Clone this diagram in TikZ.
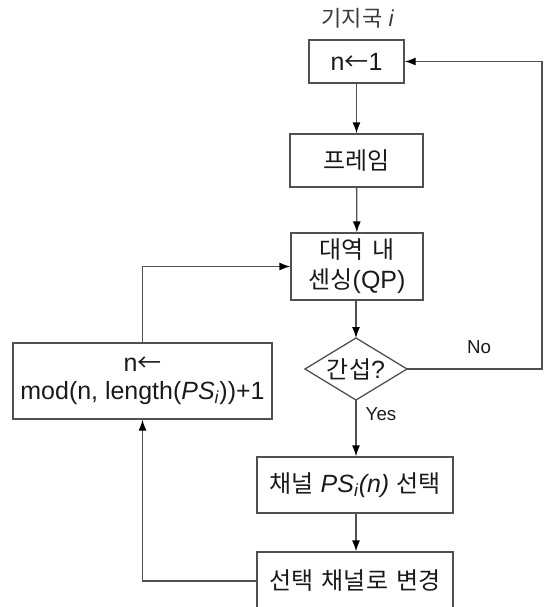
\documentclass[tikz,border=0pt]{standalone}
\usepackage{fontspec}
\setmainfont{Liberation Sans}[Scale=1.04]
\newfontfamily\kr{Noto Sans CJK KR}[WordSpace=1.6]
\usetikzlibrary{arrows.meta}
\definecolor{linegray}{HTML}{505050}
\definecolor{txt}{HTML}{1A1A1A}

\begin{document}
\begin{tikzpicture}[x=1pt,y=-1pt,
  box/.style={draw=linegray, line width=1.3pt, inner sep=0pt, align=center,
    font=\fontsize{24}{29}\selectfont, text=txt},
  lbl/.style={inner sep=0pt, text=txt, font=\fontsize{18}{22}\selectfont},
  conn/.style={draw=linegray, line width=1.3pt},
  arr/.style={conn, -{Latex[length=11pt,width=8pt,color=black]}}]
\useasboundingbox (0,0) rectangle (544,607);

% title
\node[lbl, text=txt!85, font=\fontsize{22}{26}\selectfont] (title) at (358,18) {{\kr 기지국} \textit{i}};

% process boxes
\node[box, minimum width=95, minimum height=43] (n1) at (356.5,61.5) {n{\kr ←}1};
\node[box, minimum width=133, minimum height=53] (frame) at (356.5,160.5) {\kr 프레임};
\node[box, minimum width=132, minimum height=67, font=\fontsize{24}{30}\selectfont] (sense) at (357,266.5)
  {{\kr 대역 내}\\{\kr 센싱}(QP)};

% decision
\coordinate (decN) at (356,338);
\coordinate (decE) at (407,369);
\coordinate (decS) at (356,400);
\coordinate (decW) at (305,369);
\draw[conn, line join=miter] (decN) -- (decE) -- (decS) -- (decW) -- cycle;
\node[lbl, font=\fontsize{24}{28}\selectfont] (dec) at (356,369) {{\kr 간섭}?};

\node[box, minimum width=259, minimum height=76, font=\fontsize{24}{28}\selectfont] (upd) at (142.5,381)
  {n{\kr ←}\\mod(n, length(\textit{PS}\textsubscript{\textit{i}}))+1};
\node[box, minimum width=196, minimum height=56] (chan) at (355,485)
  {{\kr 채널} \textit{PS}\textsubscript{\textit{i}}\textit{(n)} {\kr 선택}};
\node[box, minimum width=196, minimum height=58] (chg) at (355,581)
  {\raisebox{3pt}{\kr 선택 채널로 변경}};

% connectors
\coordinate (rightx) at (542,0);
\draw[arr] (n1) -- (frame);
\draw[arr] (frame) -- (sense);
\draw[arr] (sense.south -| decN) -- (decN);
\draw[arr] (decE) -- (decE -| rightx) |- (n1.east);
\draw[arr] (decS) -- (chan.north -| decS);
\draw[arr] (chan.south -| decS) -- (chg.north -| decS);
\draw[arr] (chg.west) -| (upd.south);
\draw[arr] (upd.north) |- (sense.west);

% branch labels
\node[lbl] (no) at (479,347) {No};
\node[lbl] (yes) at (381,414) {Yes};
\end{tikzpicture}
\end{document}
